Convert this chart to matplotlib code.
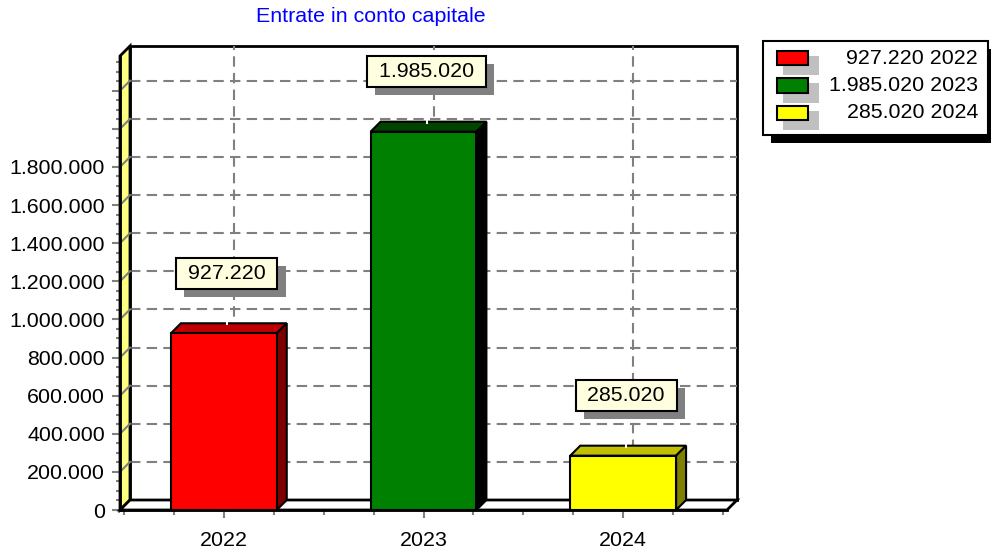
import matplotlib
matplotlib.use("Agg")
import matplotlib.pyplot as plt
import matplotlib.patheffects as pe
from matplotlib.patches import Polygon, Rectangle
from matplotlib.lines import Line2D
from matplotlib.transforms import IdentityTransform
from matplotlib.ticker import MultipleLocator

plt.rcParams['font.family'] = ['Liberation Sans', 'DejaVu Sans']

title = 'Entrate in conto capitale'
years = ['2022', '2023', '2024']
values = [927220, 1985020, 285020]
front_colors = ['#FF0000', '#008000', '#FFFF00']
top_colors = ['#C00000', '#004400', '#C0C000']
side_colors = ['#800000', '#000000', '#808000']

W, H = 991, 554
DX, DY = 10, 10          # depth of the fake 3d, pixels
GRID = '#808080'
FS = 15.4


def it(v):
    return f"{v:,}".replace(",", ".")


fig = plt.figure(figsize=(W / 100, H / 100), dpi=100)
ax = fig.add_axes([120 / W, 44 / H, 607 / W, 454 / H])
ymax = max(values) * 1.2
ax.set_xlim(-0.52, 2.52)
ax.set_ylim(0, ymax)
ax.patch.set_visible(False)
xs = list(range(len(years)))
x0, x1 = ax.get_xlim()


def px(x, y, back=False):
    p = ax.transData.transform((x, y))
    if back:
        p = p + (DX, DY)
    return p


def face(pts, **kw):
    ax.add_patch(Polygon(pts, closed=True, transform=IdentityTransform(),
                         clip_on=False, **kw))


def seg(p0, p1, **kw):
    ax.add_line(Line2D([p0[0], p1[0]], [p0[1], p1[1]],
                       transform=IdentityTransform(), clip_on=False, **kw))


# back wall
face([px(x0, 0, True), px(x1, 0, True), px(x1, ymax, True), px(x0, ymax, True)],
     fc='white', ec='black', lw=2, zorder=0.5)

gy = list(range(200000, int(ymax), 200000))
for y in gy:
    seg(px(x0, y, True), px(x1, y, True), color=GRID, lw=1.5,
        ls=(0, (5, 3)), zorder=1)
for x in xs:
    seg(px(x, 0, True), px(x, ymax, True), color=GRID, lw=1.5,
        ls=(0, (5, 3)), zorder=1)

# left wall and floor
face([px(x0, 0), px(x0, ymax), px(x0, ymax, True), px(x0, 0, True)],
     fc='#FFFF80', ec='black', lw=2, zorder=2)
for y in gy:
    seg(px(x0, y), px(x0, y, True), color=GRID, lw=1.5, zorder=2.5)
face([px(x0, 0), px(x1, 0), px(x1, 0, True), px(x0, 0, True)],
     fc='white', ec='black', lw=2, zorder=2)

# bars
bw = 0.53
ax.bar(xs, values, width=bw, color=front_colors, edgecolor='black', lw=1.5, zorder=5)
for x, v, tc, sc in zip(xs, values, top_colors, side_colors):
    face([px(x - bw / 2, v), px(x + bw / 2, v), px(x + bw / 2, v, True), px(x - bw / 2, v, True)],
         fc=tc, ec='black', lw=1.5, zorder=4)
    face([px(x + bw / 2, 0), px(x + bw / 2, v), px(x + bw / 2, v, True), px(x + bw / 2, 0, True)],
         fc=sc, ec='black', lw=1.5, zorder=4)
    p = px(x, v)
    seg(p + (3, DY - 1), p + (3, DY + 6), color='white', lw=1.5, zorder=6)
    lab = ax.annotate(f" {it(v)} ", xy=(x, v), xytext=(3, 60), textcoords='offset pixels',
                      ha='center', va='center', fontsize=FS, color='black', zorder=7,
                      bbox=dict(boxstyle='square,pad=0.27', fc='#FFFFE0', ec='black', lw=1.5))
    lab.get_bbox_patch().set_path_effects([
        pe.SimplePatchShadow(offset=(5.8, -5.8), shadow_rgbFace='#808080', alpha=1),
        pe.Normal()])

# axes, ticks
for s in ['top', 'right']:
    ax.spines[s].set_visible(False)
for s in ['left', 'bottom']:
    ax.spines[s].set_linewidth(2)
    ax.spines[s].set_zorder(3)

yt = list(range(0, int(ymax), 200000))
ax.set_yticks(yt)
ax.set_yticklabels([it(v) if v <= 1800000 else '' for v in yt])
ax.yaxis.set_minor_locator(MultipleLocator(50000))
ax.set_xticks(xs)
ax.set_xticklabels(years)
ax.xaxis.set_minor_locator(MultipleLocator(0.25))
ax.tick_params(axis='y', which='major', length=5.8, width=1.5, color=GRID,
               labelsize=FS, pad=5)
ax.tick_params(axis='y', which='minor', length=2.9, width=1.5, color=GRID)
ax.tick_params(axis='x', which='major', length=5.8, width=1.5, color=GRID,
               labelsize=FS, pad=9)
ax.tick_params(axis='x', which='minor', length=3.6, width=1.5, color=GRID)

fig.text(371 / W, 1 - 17 / H, title, color='#0000FF', ha='center', va='center',
         fontsize=FS)


# legend
def fig_rect(a0, b0, a1, b1, **kw):
    fig.add_artist(Rectangle((a0 / W, 1 - b1 / H), (a1 - a0) / W, (b1 - b0) / H,
                             transform=fig.transFigure, **kw))


fig_rect(771, 49, 996, 143, fc='black', ec='none')
fig_rect(763, 41, 988, 135, fc='white', ec='black', lw=1.5)
for i, (yr, v, c) in enumerate(zip(years, values, front_colors)):
    yc = 58 + 27.5 * i
    fig_rect(783, yc - 2, 819, yc + 17, fc='#C0C0C0', ec='none')
    fig_rect(777, yc - 7, 808, yc + 7, fc=c, ec='black', lw=1.5)
    fig.text(978 / W, 1 - yc / H, f"{it(v)} {yr}", ha='right', va='center',
             fontsize=FS)

fig.savefig('out.png', dpi=100, facecolor='white')
